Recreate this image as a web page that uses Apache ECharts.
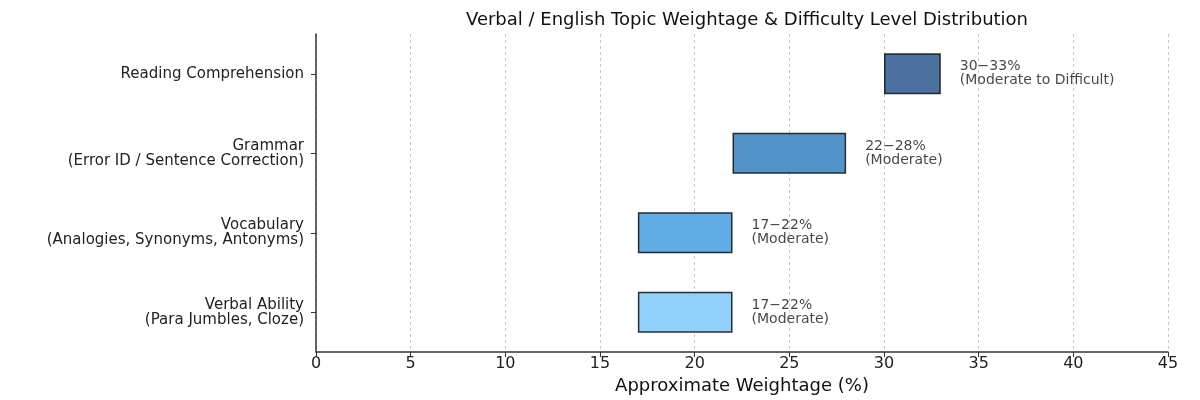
<!DOCTYPE html>
<html>
<head>
<meta charset="utf-8">
<script src="https://cdn.jsdelivr.net/npm/echarts@6/dist/echarts.min.js"></script>
<style>
  html, body { margin: 0; padding: 0; background: #fff; }
  #chart { width: 1200px; height: 400px; }
</style>
</head>
<body>
<div id="chart"></div>
<script>
// data, bottom to top
const topics = [
    'Verbal Ability\n(Para Jumbles, Cloze)',
    'Vocabulary\n(Analogies, Synonyms, Antonyms)',
    'Grammar\n(Error ID / Sentence Correction)',
    'Reading Comprehension'
];
const rangeStart = [17, 17, 22, 30];
const rangeEnd = [22, 22, 28, 33];
const difficulty = ['Moderate', 'Moderate', 'Moderate', 'Moderate to Difficult'];
const barColors = ['#85cbfa', '#4ea4e3', '#3e88c2', '#366295'];

const FONT = '"DejaVu Sans", sans-serif';

const chart = echarts.init(document.getElementById('chart'));

const option = {
    animation: false,
    title: {
        text: 'Verbal / English Topic Weightage & Difficulty Level Distribution',
        left: 742,
        textAlign: 'center',
        top: 6,
        textStyle: { fontFamily: FONT, fontSize: 18, fontWeight: 'normal', color: '#111' }
    },
    grid: { left: 316, right: 32, top: 34, bottom: 44 },
    xAxis: {
        type: 'value',
        min: 0,
        max: 45,
        interval: 5,
        name: 'Approximate Weightage (%)',
        nameLocation: 'middle',
        nameGap: 25,
        nameTextStyle: { fontFamily: FONT, fontSize: 18, color: '#111' },
        axisLine: { show: true, lineStyle: { color: '#333', width: 1.5 } },
        axisTick: { show: true, length: 5, lineStyle: { color: '#333' } },
        axisLabel: { fontFamily: FONT, fontSize: 16, color: '#222', margin: 4 },
        splitLine: { show: true, lineStyle: { color: '#c8c8c8', type: [3, 3], width: 1 } }
    },
    yAxis: {
        type: 'category',
        data: topics,
        axisLine: { show: true, lineStyle: { color: '#333', width: 1.5 } },
        axisTick: { show: true, alignWithLabel: true, length: 5, lineStyle: { color: '#333' } },
        axisLabel: { fontFamily: FONT, fontSize: 15, color: '#222', margin: 12, lineHeight: 15, align: 'right' },
        splitLine: { show: false }
    },
    series: [
        {
            // invisible offset so bars float from start to end
            type: 'bar',
            stack: 'range',
            silent: true,
            itemStyle: { color: 'transparent' },
            barWidth: 41,
            data: rangeStart
        },
        {
            type: 'bar',
            stack: 'range',
            barWidth: 41,
            data: rangeEnd.map((e, i) => ({
                value: e - rangeStart[i],
                itemStyle: { color: barColors[i], opacity: 0.9 }
            })),
            itemStyle: { borderColor: '#1a1a1a', borderWidth: 1.5 },
            label: {
                show: true,
                position: 'right',
                distance: 19,
                align: 'left',
                fontFamily: FONT,
                fontSize: 14,
                lineHeight: 14,
                color: '#333',
                formatter: p => rangeStart[p.dataIndex] + '\u2212' + rangeEnd[p.dataIndex] + '%\n(' + difficulty[p.dataIndex] + ')'
            }
        }
    ]
};

chart.setOption(option);
</script>
</body>
</html>
